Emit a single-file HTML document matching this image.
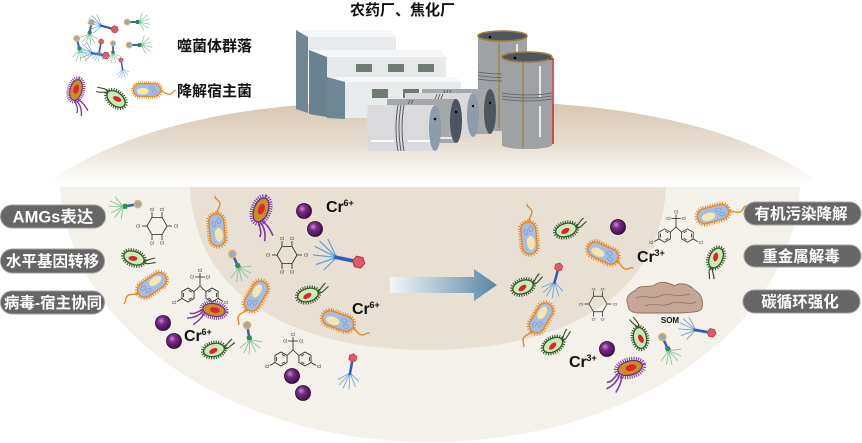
<!DOCTYPE html>
<html><head><meta charset="utf-8"><style>html,body{margin:0;padding:0;background:#fff}svg{display:block}</style></head>
<body>
<svg width="862" height="443" viewBox="0 0 862 443" xmlns="http://www.w3.org/2000/svg" xmlns:xlink="http://www.w3.org/1999/xlink" font-family="'Liberation Sans','Noto Sans CJK SC',sans-serif">
<defs>
  <linearGradient id="dome" x1="0" y1="100" x2="0" y2="183" gradientUnits="userSpaceOnUse">
    <stop offset="0" stop-color="#d6c4ae"/>
    <stop offset="0.5" stop-color="#e6dccf"/>
    <stop offset="1" stop-color="#ffffff"/>
  </linearGradient>
  <linearGradient id="arr" x1="390" y1="0" x2="497" y2="0" gradientUnits="userSpaceOnUse">
    <stop offset="0" stop-color="#f4f6f8"/>
    <stop offset="0.5" stop-color="#a9bfcf"/>
    <stop offset="1" stop-color="#5686a4"/>
  </linearGradient>
  <radialGradient id="ball" cx="0.38" cy="0.35" r="0.7">
    <stop offset="0" stop-color="#c98fd0"/>
    <stop offset="0.35" stop-color="#7a2a86"/>
    <stop offset="1" stop-color="#3c0c44"/>
  </radialGradient>
  <g id="sph"><circle r="7.5" fill="url(#ball)" stroke="#2a0a2e" stroke-width="0.8"/></g>
  <g id="rod">
    <path d="M16,1 C21,2 23,6 27,5 S31,0 34,1" stroke="#e8892b" stroke-width="1.4" fill="none"/>
    <rect x="-17" y="-8.5" width="34" height="17" rx="8.5" fill="none" stroke="#e8892b" stroke-width="3.5" stroke-dasharray="1 1.5"/>
    <rect x="-16" y="-7.5" width="32" height="15" rx="7.5" fill="#a4bde2" stroke="#e8892b" stroke-width="1.5"/>
    <ellipse cx="-5" cy="1.5" rx="7" ry="4" fill="#f3e6ae"/>
    <ellipse cx="6" cy="-2.5" rx="2.8" ry="1.8" fill="none" stroke="#7b90b8" stroke-width="0.6"/>
    <ellipse cx="9" cy="2.5" rx="2.8" ry="1.8" fill="none" stroke="#7b90b8" stroke-width="0.6"/>
  </g>
  <g id="grn">
    <path d="M10,0 C14,-2 15,-5 20,-7 M10,1 C15,2 17,-1 22,-3" stroke="#2d4a25" fill="none" stroke-width="1.1"/>
    <ellipse rx="11.5" ry="7.5" fill="none" stroke="#2d5a28" stroke-width="3.5" stroke-dasharray="1 1.3"/>
    <ellipse rx="10.5" ry="6.5" fill="#cfe8b6" stroke="#2d5a28" stroke-width="1.3"/>
    <ellipse cx="-1" cy="0.5" rx="4.5" ry="2.4" fill="#d8262a" transform="rotate(-15)"/>
  </g>
  <g id="pur">
    <path d="M-12,2 C-17,4 -20,9 -26,8 M-12,4 C-16,10 -22,13 -28,14 M-10,5 C-12,12 -16,16 -20,20" stroke="#7b3aa8" stroke-width="1.6" fill="none"/>
    <ellipse rx="14" ry="8.5" fill="none" stroke="#7b3aa8" stroke-width="4.5" stroke-dasharray="1 1.2"/>
    <ellipse rx="12.5" ry="7" fill="#c98f22" stroke="#6a2a90" stroke-width="1.2"/>
    <ellipse cx="1" rx="5.5" ry="3.2" fill="#e0262a"/>
  </g>
  <g id="phg">
    <path d="M0,4 L-8,16 M0,4 L-3,18 M0,4 L4,17 M0,4 L9,14 M0,4 L12,8 M0,4 L-11,10" stroke="#86c59a" stroke-width="0.9" fill="none"/>
    <rect x="-1.3" y="-8" width="2.6" height="12" fill="#3a62b8"/>
    <rect x="-2.5" y="0" width="5" height="4" fill="#2f8a55"/>
    <circle cy="-11" r="3.5" fill="#8ca9d6" stroke="#e3b24a" stroke-width="1.5"/>
  </g>
  <g id="phb">
    <path d="M-6,0 L-22,-10 M-6,0 L-25,-5 M-6,0 L-25,2 M-6,0 L-21,9 M-6,0 L-14,12 M-6,0 L-16,-13" stroke="#5a9ee0" stroke-width="0.9" fill="none"/>
    <path d="M-8,0 L8,0" stroke="#2a5fbf" stroke-width="3"/>
    <polygon points="17,0 14.5,4.3 9.5,4.3 7,0 9.5,-4.3 14.5,-4.3" fill="#e05a6a" stroke="#b8303f" stroke-width="0.8"/>
  </g>
  <g id="hch" stroke="#222" stroke-width="0.8" fill="none">
    <polygon points="10,0 5,8.66 -5,8.66 -10,0 -5,-8.66 5,-8.66"/>
    <path d="M10,0 L15,0 M-10,0 L-15,0 M5,-8.66 L5,-14 M-5,-8.66 L-5,-14 M5,8.66 L5,14 M-5,8.66 L-5,14"/>
    <g fill="#222" stroke="none" font-size="4.5" text-anchor="middle">
      <text x="19" y="1.6">Cl</text><text x="-19" y="1.6">Cl</text>
      <text x="5" y="-15">Cl</text><text x="-5" y="-15">Cl</text>
      <text x="5" y="18.5">Cl</text><text x="-5" y="18.5">Cl</text>
    </g>
  </g>
  <g id="benz" stroke="#222" stroke-width="0.8" fill="none">
    <polygon points="0,-7 6.06,-3.5 6.06,3.5 0,7 -6.06,3.5 -6.06,-3.5"/>
    <path d="M0.8,-4.6 L3.8,-2.9 M3.8,2.9 L0.8,4.6 M-4.4,2 L-4.4,-2"/>
  </g>
  <g id="ddt">
    <use xlink:href="#benz" transform="translate(-12,9)"/>
    <use xlink:href="#benz" transform="translate(12,9) scale(-1,1)"/>
    <path d="M0,0 L-5.94,5.5 M0,0 L5.94,5.5 M0,0 L0,-9 M0,-9 L0,-13 M0,-9 L-5,-9 M0,-9 L5,-9 M-18.06,12.5 L-23,15.5 M18.06,12.5 L23,15.5" stroke="#222" stroke-width="0.8" fill="none"/>
    <g fill="#222" font-size="4.5" text-anchor="middle">
      <text x="0" y="-14">Cl</text><text x="-8" y="-7.5">Cl</text><text x="8" y="-7.5">Cl</text>
      <text x="-26" y="18">Cl</text><text x="26" y="18">Cl</text>
    </g>
  </g>
</defs>

<!-- dome -->
<path d="M47,183 C150,110 300,100 432,100 C570,100 720,110 820,183 Z" fill="url(#dome)"/>

<!-- outer bowl -->
<path d="M60,187 L800,187 C792,330 630,442 430,442 C230,442 70,330 60,187 Z" fill="#f4f1ea"/>
<!-- inner bowl -->
<path d="M190,187 L666,187 C660,300 560,350 427,350 C300,350 195,300 190,187 Z" fill="#e7e0d3"/>

<!-- factory: vertical tank E -->
<g>
  <rect x="478" y="36" width="49" height="91" fill="#9ea2a5"/>
  <ellipse cx="502.5" cy="127" rx="24.5" ry="4" fill="#9ea2a5"/>
  <path d="M499,40 L499,128" stroke="#a4844e" stroke-width="1.5"/>
  <path d="M517,44 L517,62" stroke="#fff" stroke-width="1.5"/>
  <path d="M478,72 Q502,76 527,72 M478,75.5 Q502,79.5 527,75.5 M478,79 Q502,83 527,79" stroke="#5a6066" stroke-width="0.8" fill="none"/>
  <ellipse cx="502.5" cy="36" rx="24.5" ry="5" fill="#4c5560" stroke="#a27b3c" stroke-width="1.6"/>
  <circle cx="490" cy="37" r="1.3" fill="#000"/>
</g>
<!-- building -->
<g>
  <polygon points="296,30 390,30 396,37 308,37" fill="#f5f6f7"/>
  <polygon points="308,37 396,37 396,60 308,60" fill="#e8eaec"/>
  <polygon points="296,30 308,37 308,113 296,109" fill="#6f8694"/>
  <polygon points="309,50 440,50 446,57 327,57" fill="#f5f6f7"/>
  <polygon points="327,57 446,57 446,118 327,118" fill="#e6e8ea"/>
  <polygon points="309,50 327,57 327,117 309,114" fill="#6a818f"/>
  <rect x="356" y="64" width="16" height="8" fill="#6e7b70"/>
  <rect x="388" y="64" width="16" height="8" fill="#6e7b70"/>
  <rect x="418" y="64" width="16" height="8" fill="#6e7b70"/>
  <polygon points="327,77 455,77 461,82 345,82" fill="#f5f6f7"/>
  <polygon points="345,82 461,82 461,118 345,118" fill="#e8eaec"/>
  <polygon points="327,77 345,82 345,119 327,118" fill="#6f8694"/>
  <rect x="372" y="89" width="16" height="9" fill="#6e7b70"/>
  <rect x="403" y="89" width="16" height="9" fill="#6e7b70"/>
</g>
<!-- horizontal tanks -->
<g>
  <rect x="422" y="89" width="68" height="45" fill="#a5a8ab"/>
  <path d="M445,90 L443,95 M448,90 L446,95 M451,90 L449,95" stroke="#555" stroke-width="0.8"/>
  <ellipse cx="490" cy="111.5" rx="6" ry="22.5" fill="#4c5560"/>
  <circle cx="490" cy="103" r="1.2" fill="#000"/>

  <rect x="405" y="93" width="68" height="44" fill="#d9d9db"/>
  <path d="M437,94 L435,99 M440,94 L438,99 M443,94 L441,99" stroke="#555" stroke-width="0.8"/>
  <ellipse cx="473" cy="115" rx="6" ry="22" fill="#8d9cab"/>
  <circle cx="473" cy="106" r="1.2" fill="#000"/>

  <rect x="387" y="99" width="69" height="44" fill="#a5a8ab"/>
  <path d="M410,100 L408,104 M413,100 L411,104" stroke="#555" stroke-width="0.8"/>
  <ellipse cx="456" cy="121" rx="6" ry="22" fill="#4c5560"/>
  <circle cx="456" cy="112" r="1.2" fill="#000"/>
  <path d="M440,138 L452,138" stroke="#fff" stroke-width="1.5"/>

  <path d="M368,105 L435,105 L435,151 L368,151 Q365,128 368,105 Z" fill="#dadadc"/>
  <path d="M398,105 Q394,128 398,151 M401,105 Q397,128 401,151 M404,105 Q400,128 404,151" stroke="#555a60" stroke-width="1" fill="none"/>
  <path d="M371,141 L394,141 M408,141 L430,141" stroke="#fff" stroke-width="1.8"/>
  <ellipse cx="435" cy="128" rx="6" ry="23" fill="#8d9cab"/>
  <circle cx="435" cy="119" r="1.3" fill="#000"/>
</g>
<!-- vertical tank F -->
<g>
  <rect x="502" y="57" width="50" height="88" fill="#9ea2a5"/>
  <ellipse cx="527" cy="145" rx="25" ry="4" fill="#9ea2a5"/>
  <path d="M523,62 L523,148" stroke="#a4844e" stroke-width="1.5"/>
  <path d="M540,66 L540,97 M540,106 L540,137" stroke="#fff" stroke-width="1.5"/>
  <path d="M502,93 Q527,97 552,93 M502,96 Q527,100 552,96 M502,99 Q527,103 552,99" stroke="#5a6066" stroke-width="0.8" fill="none"/>
  <ellipse cx="527" cy="57" rx="25" ry="5" fill="#4c5560" stroke="#a27b3c" stroke-width="1.6"/>
  <circle cx="515" cy="58" r="1.3" fill="#000"/>
  <path d="M549,59 L553,59 L553,144" stroke="#d21a22" stroke-width="1.5" fill="none"/>
</g>

<!-- titles / legend -->
<text x="350" y="15" font-size="15" font-weight="bold" fill="#111">农药厂、焦化厂</text>
<text x="177" y="51" font-size="15" font-weight="bold" fill="#111">噬菌体群落</text>
<text x="177" y="96" font-size="15" font-weight="bold" fill="#111">降解宿主菌</text>

<g>
  <use xlink:href="#phb" transform="translate(106,27) rotate(15) scale(0.75)"/>
  <use xlink:href="#phb" transform="translate(97,54) rotate(10) scale(0.75)"/>
  <use xlink:href="#phb" transform="translate(100,48) rotate(-80) scale(0.55)"/>
  <use xlink:href="#phb" transform="translate(122,66) rotate(-100) scale(0.5)"/>
  <use xlink:href="#phg" transform="translate(90,31) rotate(10) scale(0.8)"/>
  <use xlink:href="#phg" transform="translate(136,22) rotate(-90) scale(0.8)"/>
  <use xlink:href="#phg" transform="translate(79,47) rotate(-15) scale(0.8)"/>
  <use xlink:href="#phg" transform="translate(138,45) rotate(-90) scale(0.8)"/>
  <use xlink:href="#phg" transform="translate(113,51) scale(0.7)"/>
</g>
<use xlink:href="#pur" transform="translate(76,90) rotate(-75) scale(0.85)"/>
<use xlink:href="#grn" transform="translate(116,99) rotate(-140)"/>
<use xlink:href="#rod" transform="translate(147,90) scale(0.85)"/>

<!-- left pills -->
<g font-size="15.5" font-weight="bold" fill="#fff" text-anchor="middle">
  <rect x="0.5" y="205" width="105" height="23" rx="11.5" fill="#666" stroke="#a0a0a0" stroke-width="1"/>
  <text x="53" y="222.5" font-size="16.5">AMGs表达</text>
  <rect x="0.5" y="249" width="104" height="24" rx="12" fill="#666" stroke="#a0a0a0" stroke-width="1"/>
  <text x="52.5" y="266.5">水平基因转移</text>
  <rect x="0.5" y="291" width="104" height="23" rx="11.5" fill="#666" stroke="#a0a0a0" stroke-width="1"/>
  <text x="53" y="308">病毒-宿主协同</text>
  <!-- right pills -->
  <rect x="744" y="202" width="117" height="23" rx="11.5" fill="#666" stroke="#a0a0a0" stroke-width="1"/>
  <text x="801" y="219">有机污染降解</text>
  <rect x="744" y="245" width="117" height="22" rx="11" fill="#666" stroke="#a0a0a0" stroke-width="1"/>
  <text x="801" y="261.5">重金属解毒</text>
  <rect x="743" y="290" width="117" height="23" rx="11.5" fill="#666" stroke="#a0a0a0" stroke-width="1"/>
  <text x="800" y="307">碳循环强化</text>
</g>

<!-- arrow -->
<path d="M390,277 L474,277 L474,269 L497,285 L474,301 L474,293 L390,293 Z" fill="url(#arr)"/>

<!-- SOM -->
<path d="M628,305 C624,296 632,292 636,290 C640,284 650,288 655,285 C660,280 670,283 674,286 C680,282 690,284 694,290 C700,292 704,300 702,308 C700,313 690,312 680,313 L640,313 C632,313 628,310 628,305 Z" fill="#c6a797" stroke="#8c6e5e" stroke-width="0.9"/>
<path d="M636,298 C645,294 650,300 660,296 C668,292 675,298 690,294 M645,306 C655,302 662,308 672,303 C680,300 688,306 696,302" stroke="#8c6e5e" stroke-width="0.7" fill="none"/>
<text x="670" y="323" font-size="8" font-weight="bold" fill="#111" text-anchor="middle">SOM</text>

<!-- chemicals -->
<use xlink:href="#hch" transform="translate(157,226)"/>
<use xlink:href="#hch" transform="translate(287,255)"/>
<use xlink:href="#hch" transform="translate(598,304) scale(0.9)"/>
<use xlink:href="#ddt" transform="translate(200,286)"/>
<use xlink:href="#ddt" transform="translate(293,350)"/>
<use xlink:href="#ddt" transform="translate(676,227) scale(0.95)"/>

<!-- spheres -->
<use xlink:href="#sph" transform="translate(304,211)"/>
<use xlink:href="#sph" transform="translate(315,229)"/>
<use xlink:href="#sph" transform="translate(163,323)"/>
<use xlink:href="#sph" transform="translate(174,341)"/>
<use xlink:href="#sph" transform="translate(292,376)"/>
<use xlink:href="#sph" transform="translate(303,393)"/>
<use xlink:href="#sph" transform="translate(618,227)"/>
<use xlink:href="#sph" transform="translate(607,349)"/>

<!-- microbes left/center -->
<use xlink:href="#phg" transform="translate(127,206) rotate(80)"/>
<use xlink:href="#grn" transform="translate(134,258) rotate(20)"/>
<use xlink:href="#rod" transform="translate(152,285) rotate(145)"/>
<use xlink:href="#rod" transform="translate(217,230) rotate(-95)"/>
<use xlink:href="#pur" transform="translate(261,210) rotate(-70)"/>
<use xlink:href="#phg" transform="translate(237,264) rotate(-25)"/>
<use xlink:href="#pur" transform="translate(214,310) rotate(10) scale(0.9)"/>
<use xlink:href="#grn" transform="translate(214,350) rotate(-12)"/>
<use xlink:href="#phg" transform="translate(249,336) rotate(-10)"/>
<use xlink:href="#rod" transform="translate(256,296) rotate(120)"/>
<use xlink:href="#phb" transform="translate(344,259) rotate(12) scale(1.25)"/>
<use xlink:href="#grn" transform="translate(308,295) rotate(-15)"/>
<use xlink:href="#rod" transform="translate(338,321) rotate(20)"/>
<use xlink:href="#phb" transform="translate(351,368) rotate(-80) scale(0.85)"/>

<!-- microbes right -->
<use xlink:href="#rod" transform="translate(529,238) rotate(-95)"/>
<use xlink:href="#grn" transform="translate(566,230) rotate(-15)"/>
<use xlink:href="#rod" transform="translate(603,253) rotate(25)"/>
<use xlink:href="#rod" transform="translate(713,214) rotate(-15)"/>
<use xlink:href="#grn" transform="translate(716,258) rotate(115)"/>
<use xlink:href="#grn" transform="translate(523,287) rotate(-20)"/>
<use xlink:href="#phb" transform="translate(556,277) rotate(-75) scale(0.85)"/>
<use xlink:href="#rod" transform="translate(541,318) rotate(120)"/>
<use xlink:href="#grn" transform="translate(553,345) rotate(-30)"/>
<use xlink:href="#grn" transform="translate(640,338) rotate(-100)"/>
<use xlink:href="#phb" transform="translate(701,331) rotate(10) scale(0.9)"/>
<use xlink:href="#phg" transform="translate(667,347) rotate(-25)"/>
<use xlink:href="#pur" transform="translate(630,368) rotate(-15)"/>

<!-- Cr labels -->
<g font-weight="bold" fill="#111">
  <text x="326" y="212" font-size="16">Cr</text><text x="343.5" y="206" font-size="9">6+</text>
  <text x="352" y="314" font-size="16">Cr</text><text x="369.5" y="308" font-size="9">6+</text>
  <text x="184" y="341" font-size="16">Cr</text><text x="201.5" y="335" font-size="9">6+</text>
  <text x="637" y="262" font-size="16">Cr</text><text x="654.5" y="256" font-size="9">3+</text>
  <text x="569" y="367" font-size="16">Cr</text><text x="586.5" y="361" font-size="9">3+</text>
</g>
</svg>
</body></html>
